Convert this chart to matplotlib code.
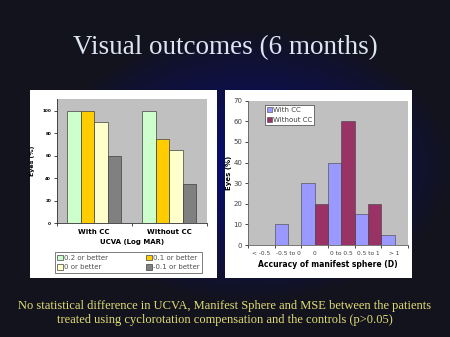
import numpy as np
import matplotlib
matplotlib.use("Agg")
import matplotlib.pyplot as plt
from matplotlib.patches import Patch

# ---------------- data ----------------
title = "Visual outcomes (6 months)"
footnote = ("No statistical difference in UCVA, Manifest Sphere and MSE between the patients\n"
            "treated using cyclorotation compensation and the controls (p>0.05)")

ucva_groups = ["With CC", "Without CC"]
ucva_series = ["0.2 or better", "0.1 or better", "0 or better", "-0.1 or better"]
ucva_02 = [100, 100]
ucva_01 = [100, 75]
ucva_00 = [90, 65]
ucva_m01 = [60, 35]
ucva_yticks = [0, 20, 40, 60, 80, 100]

sphere_cats = ["< -0.5", "-0.5 to 0", "0", "0 to 0.5", "0.5 to 1", "> 1"]
sphere_with = [0, 10, 30, 40, 15, 5]
sphere_without = [0, 0, 20, 60, 20, 0]
sphere_yticks = [0, 10, 20, 30, 40, 50, 60, 70]

W, H = 450, 337
fig = plt.figure(figsize=(W / 100, H / 100), dpi=100)


def rect(x0, y0, x1, y1):
    return [x0 / W, 1 - y1 / H, (x1 - x0) / W, (y1 - y0) / H]


# ---------------- background ----------------
bg = fig.add_axes([0, 0, 1, 1])
yy, xx = np.mgrid[0:H, 0:W]
d = np.sqrt(((xx - 250) / 200.0) ** 2 + ((yy - 165) / 135.0) ** 2)
glow = np.clip(1 - d, 0, 1) ** 0.9
base = np.array([0.075, 0.075, 0.12])
blue = np.array([0.03, 0.05, 0.45])
img = base[None, None, :] * (1 - glow[..., None]) + blue[None, None, :] * glow[..., None]
bg.imshow(img, extent=[0, W, H, 0], aspect="auto")
bg.set_xlim(0, W)
bg.set_ylim(H, 0)
bg.axis("off")

fig.text(0.5, 1 - 48 / H, title, ha="center", va="center",
         family="Liberation Serif", fontsize=19.5, color="#dde4f2")
fig.text(0.5, 1 - 313 / H, footnote, ha="center", va="center",
         family="Liberation Serif", fontsize=9.0, color="#e2dc76",
         linespacing=1.2)

# white panels
for r in (rect(30, 90, 217, 278), rect(225, 90, 412, 278)):
    p = fig.add_axes(r)
    p.set_facecolor("white")
    p.set_xticks([])
    p.set_yticks([])
    for s in p.spines.values():
        s.set_visible(False)

# ---------------- left chart ----------------
ax1 = fig.add_axes(rect(56.7, 99.3, 206.7, 223.3))
ax1.set_facecolor("#c0c0c0")
colors1 = ["#ccffcc", "#ffcc00", "#ffffcc", "#808080"]
vals1 = [ucva_02, ucva_01, ucva_00, ucva_m01]
x1 = np.arange(len(ucva_groups))
bw = 0.714 / 4
for i, (v, c, lab) in enumerate(zip(vals1, colors1, ucva_series)):
    ax1.bar(x1 - 0.357 + bw * (i + 0.5), v, width=bw, color=c,
            edgecolor="#404040", linewidth=0.5, label=lab)
ax1.set_xlim(-0.5, 1.5)
ax1.set_ylim(0, 110)
ax1.set_yticks(ucva_yticks)
ax1.set_yticklabels([str(t) for t in ucva_yticks], fontsize=3, fontweight="bold")
ax1.set_xticks(x1)
ax1.set_xticklabels(ucva_groups, fontsize=5, fontweight="bold")
ax1.set_xticks([-0.5, 0.5, 1.5], minor=True)
ax1.tick_params(axis="x", which="major", length=0, pad=4)
ax1.tick_params(axis="x", which="minor", length=2, width=0.5)
ax1.tick_params(axis="y", length=2, width=0.5, pad=2)
for s in ("top", "right"):
    ax1.spines[s].set_visible(False)
for s in ("left", "bottom"):
    ax1.spines[s].set_linewidth(0.6)
    ax1.spines[s].set_color("#303030")
ax1.set_ylabel("Eyes (%)", fontsize=4.5, fontweight="bold", labelpad=5)
ax1.set_xlabel("UCVA (Log MAR)", fontsize=5, fontweight="bold", labelpad=3)

# legend filled row by row (matplotlib fills columns first)
order = [0, 2, 1, 3]
handles1 = [Patch(facecolor=colors1[i], edgecolor="#404040", linewidth=0.5) for i in order]
labels1 = [ucva_series[i] for i in order]
leg1 = fig.legend(handles1, labels1, ncol=2, fontsize=5,
                  loc="center", bbox_to_anchor=(128.5 / W, 1 - 262.5 / H),
                  frameon=True, fancybox=False, edgecolor="#404040",
                  handlelength=0.8, handleheight=0.8, handletextpad=0.2,
                  columnspacing=5.5, borderpad=0.35, labelspacing=0.5)
leg1.get_frame().set_linewidth(0.6)
for t in leg1.get_texts():
    t.set_color("#505050")

# ---------------- right chart ----------------
ax2 = fig.add_axes(rect(248, 100.7, 408, 245))
ax2.set_facecolor("#c0c0c0")
x2 = np.arange(len(sphere_cats))
ax2.bar(x2 - 0.25, sphere_with, width=0.5, color="#9999ff",
        edgecolor="#404040", linewidth=0.4, label="With CC")
ax2.bar(x2 + 0.25, sphere_without, width=0.5, color="#993366",
        edgecolor="#404040", linewidth=0.4, label="Without CC")
ax2.set_xlim(-0.5, len(sphere_cats) - 0.5)
ax2.set_ylim(0, 70)
ax2.set_yticks(sphere_yticks)
ax2.set_yticklabels([str(t) for t in sphere_yticks], fontsize=5, color="#404040")
ax2.set_xticks(x2)
ax2.set_xticklabels(sphere_cats, fontsize=4.2, color="#404040")
ax2.set_xticks(np.arange(-0.5, len(sphere_cats)), minor=True)
ax2.tick_params(axis="x", which="major", length=0, pad=4)
ax2.tick_params(axis="x", which="minor", length=2, width=0.5)
ax2.tick_params(axis="y", length=2, width=0.5, pad=2)
for s in ("top", "right"):
    ax2.spines[s].set_visible(False)
for s in ("left", "bottom"):
    ax2.spines[s].set_linewidth(0.6)
    ax2.spines[s].set_color("#606060")
ax2.set_ylabel("Eyes (%)", fontsize=5, fontweight="bold", labelpad=1)
ax2.set_xlabel("Accuracy of manifest sphere (D)", fontsize=5.5,
               fontweight="bold", labelpad=3)
leg2 = ax2.legend(loc="upper left", bbox_to_anchor=(17 / 160, 1 - 4.3 / 144.3),
                  fontsize=5, frameon=True, fancybox=False, edgecolor="#404040",
                  facecolor="white", framealpha=1,
                  handlelength=0.7, handleheight=0.7, handletextpad=0.15,
                  borderpad=0.3, labelspacing=0.5, borderaxespad=0)
leg2.get_frame().set_linewidth(0.5)
for t in leg2.get_texts():
    t.set_color("#404040")

fig.savefig("out.png", dpi=100)
